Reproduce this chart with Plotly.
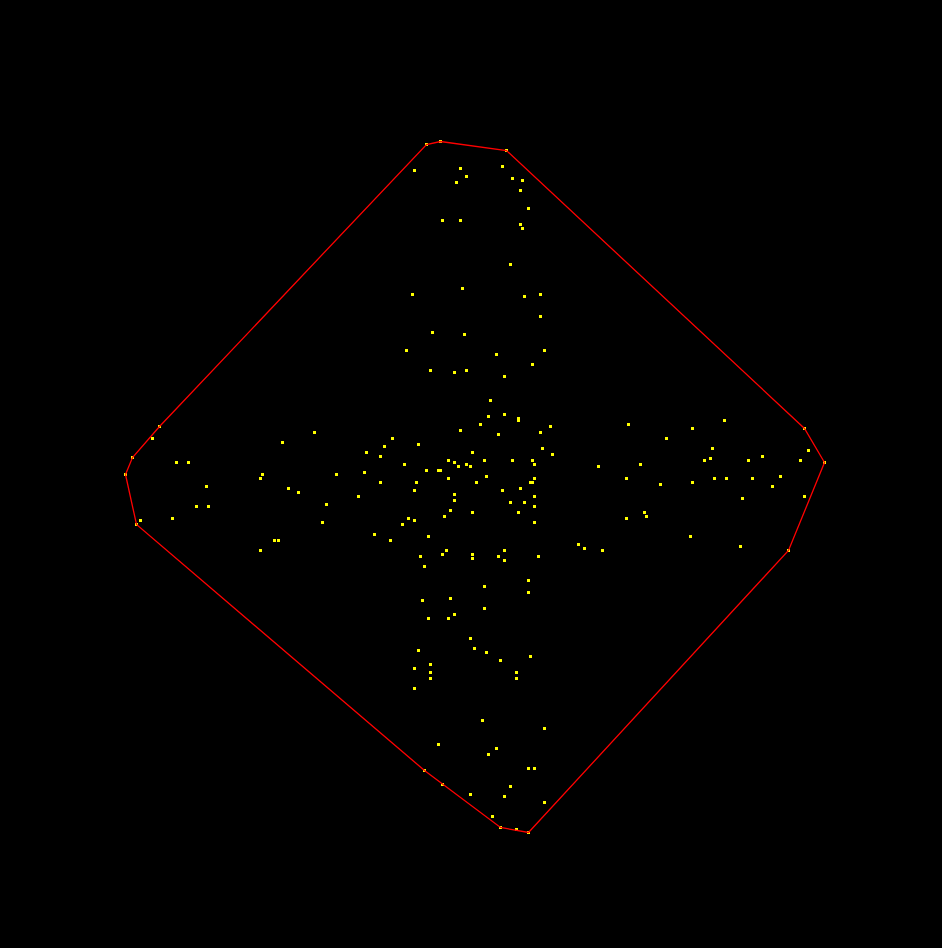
import plotly.graph_objects as go

# Point coordinates
x_vals = [
    426, 440, 506, 414, 460, 466, 456, 502, 512, 522, 520, 528, 442, 460, 520, 522,
    510, 462, 412, 524, 540, 540, 432, 464, 406, 496, 544, 532,
    159, 152, 132, 125, 136, 140, 176, 188, 206, 196, 208, 172, 282, 314, 262, 260,
    288, 298, 336, 358, 326, 322, 274, 278, 260,
    430, 454, 466, 504, 490, 488, 504, 518, 518, 480, 460, 498, 540, 550, 392, 418,
    384, 366, 380, 542, 552, 472, 448, 454, 458, 466, 470, 484, 512, 532, 534, 404,
    364, 426, 438, 440, 598, 448, 486, 476, 380, 416, 414, 534, 530, 532, 502, 520,
    454, 454, 534, 510, 524, 534, 450, 472, 518, 444, 408, 414, 402, 534, 374, 390,
    428, 578, 584, 446, 442, 420, 472, 472, 504, 498, 504, 538, 424, 528, 484, 528,
    422, 450,
    804, 824, 788, 628, 692, 724, 666, 712, 704, 710, 748, 762, 800, 808, 640, 626,
    660, 692, 714, 726, 752, 780, 772, 804, 742, 644, 646, 626, 690, 740, 602,
    484, 428, 448, 454, 470, 474, 486, 500, 530, 418, 414, 430, 430, 430, 516, 516,
    414, 482, 544, 438, 496, 488, 528, 534, 424, 442, 510, 504, 470, 544, 492, 500,
    516, 528,
]
y_vals = [
    144, 141, 150, 170, 168, 176, 182, 166, 178, 180, 190, 208, 220, 220, 224, 228,
    264, 288, 294, 296, 294, 316, 332, 334, 350, 354, 350, 364,
    426, 438, 457, 474, 524, 520, 462, 462, 486, 506, 506, 518, 442, 432, 474, 478,
    488, 492, 474, 496, 504, 522, 540, 540, 550,
    370, 372, 370, 376, 400, 416, 414, 418, 420, 424, 430, 434, 432, 426, 438, 444,
    446, 452, 456, 448, 454, 452, 460, 462, 466, 464, 466, 460, 460, 460, 464, 464,
    472, 470, 470, 470, 466, 478, 476, 482, 482, 482, 490, 478, 482, 482, 490, 488,
    494, 500, 496, 502, 502, 506, 510, 512, 512, 516, 518, 520, 524, 522, 534, 540,
    536, 544, 548, 550, 554, 556, 554, 558, 550, 556, 560, 556, 566, 580, 586, 592,
    600, 598,
    428, 462, 550, 424, 428, 420, 438, 448, 460, 458, 460, 456, 460, 450, 464, 478,
    484, 482, 478, 478, 478, 476, 486, 496, 498, 512, 516, 518, 536, 546, 550,
    608, 618, 618, 614, 638, 648, 652, 660, 656, 650, 668, 664, 672, 678, 672, 678,
    688, 720, 728, 744, 748, 754, 768, 768, 770, 784, 786, 796, 794, 802, 816, 827,
    829, 832,
]


def convex_hull(xs, ys):
    pts = sorted(set(zip(xs, ys)))

    def cross(o, a, b):
        return (a[0] - o[0]) * (b[1] - o[1]) - (a[1] - o[1]) * (b[0] - o[0])

    lower = []
    for p in pts:
        while len(lower) >= 2 and cross(lower[-2], lower[-1], p) <= 0:
            lower.pop()
        lower.append(p)
    upper = []
    for p in reversed(pts):
        while len(upper) >= 2 and cross(upper[-2], upper[-1], p) <= 0:
            upper.pop()
        upper.append(p)
    hull = lower[:-1] + upper[:-1]
    hull.append(hull[0])
    return [p[0] for p in hull], [p[1] for p in hull]


hx, hy = convex_hull(x_vals, y_vals)

fig = go.Figure()
fig.add_trace(go.Scatter(
    x=x_vals, y=y_vals, mode="markers",
    marker=dict(symbol="square", size=3, color="#ffff00", line=dict(width=0)),
    hoverinfo="skip", showlegend=False,
))
fig.add_trace(go.Scatter(
    x=hx, y=hy, mode="lines",
    line=dict(color="#ff0000", width=1.3),
    hoverinfo="skip", showlegend=False,
))

fig.update_layout(
    width=942, height=948,
    margin=dict(l=0, r=0, t=0, b=0),
    paper_bgcolor="#000000", plot_bgcolor="#000000",
    xaxis=dict(range=[-0.5, 941.5], visible=False, showgrid=False, zeroline=False),
    yaxis=dict(range=[947.5, -0.5], visible=False, showgrid=False, zeroline=False),
    showlegend=False,
)

fig.write_html("out.html", config={"displayModeBar": False})
